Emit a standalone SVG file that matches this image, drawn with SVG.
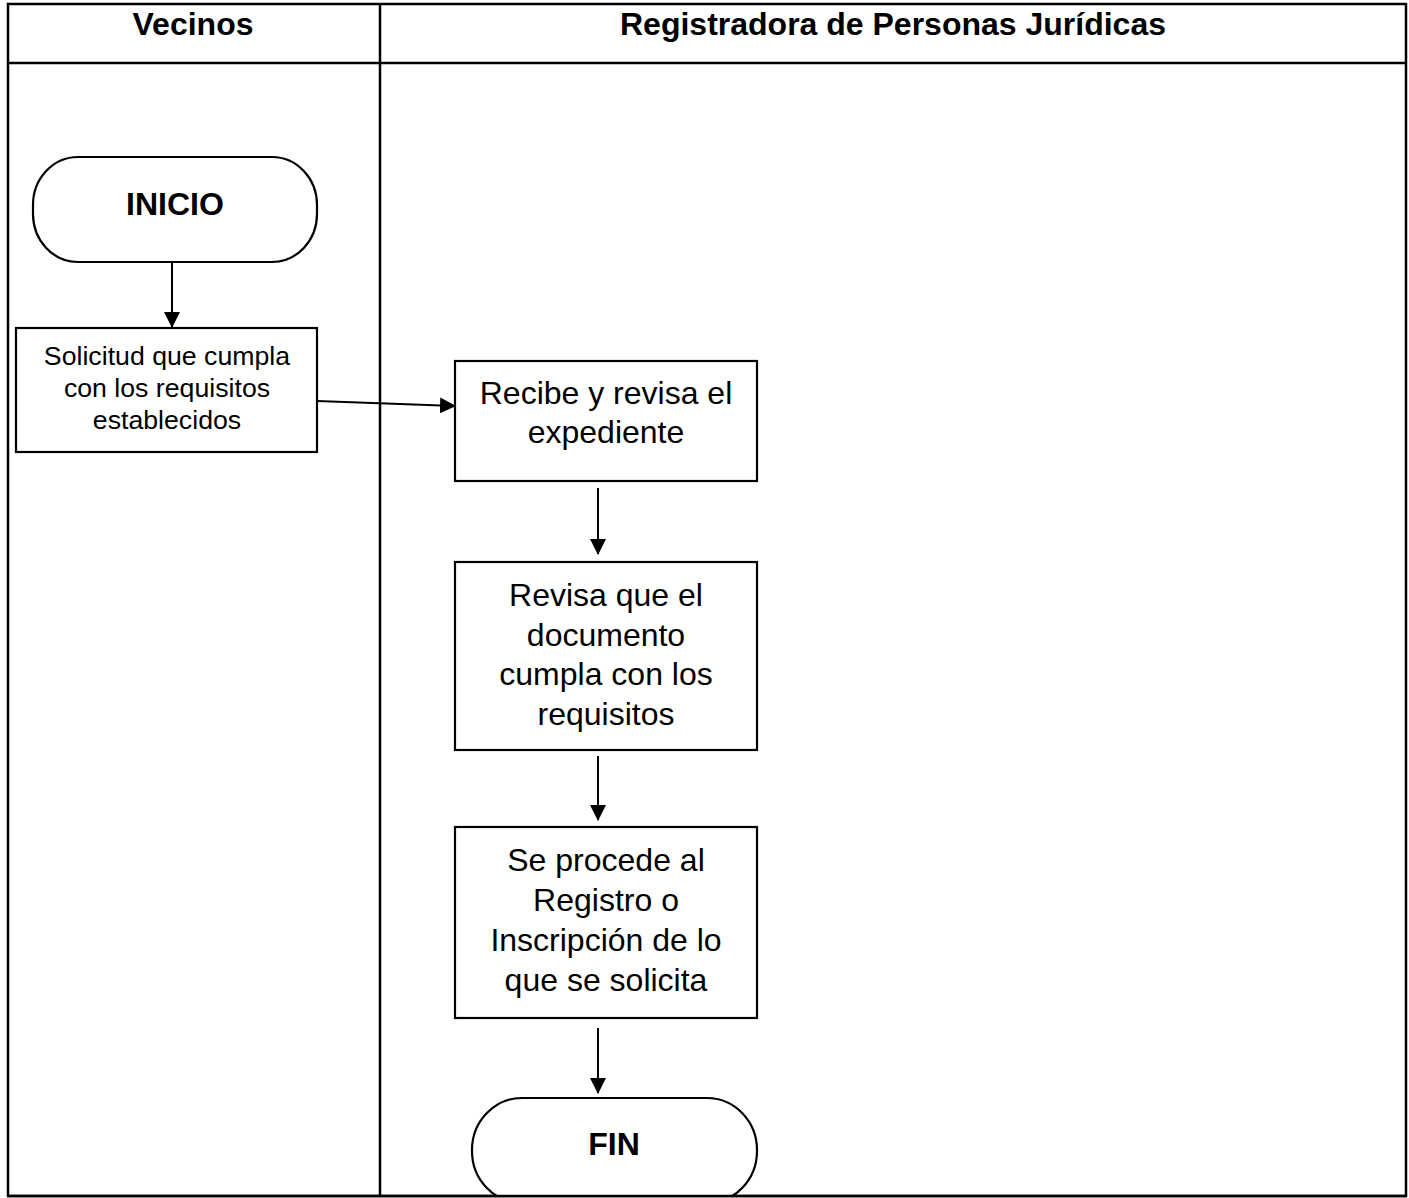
<svg xmlns="http://www.w3.org/2000/svg" width="1409" height="1198" viewBox="0 0 1409 1198">
  <style>
    .grid { fill: none; stroke: #000; stroke-width: 2.5; }
    .shape { fill: #fff; stroke: #000; stroke-width: 2.2; }
    .hdr { font-family: "Liberation Sans", Arial, sans-serif; font-weight: bold; font-size: 32px; text-anchor: middle; }
    .term { font-family: "Liberation Sans", Arial, sans-serif; font-weight: bold; font-size: 32px; text-anchor: middle; }
    .lbl { font-family: "Liberation Sans", Arial, sans-serif; font-size: 32px; text-anchor: middle; }
    .lbl-sm { font-family: "Liberation Sans", Arial, sans-serif; font-size: 26.7px; text-anchor: middle; }
    .conn { fill: none; stroke: #000; stroke-width: 2; }
  </style>
  <defs>
    <marker id="arrowV" markerWidth="16" markerHeight="16" refX="15" refY="8" orient="auto" markerUnits="userSpaceOnUse" viewBox="0 0 16 16">
      <path d="M0,0 L16,8 L0,16 z" fill="#000"/>
    </marker>
    <clipPath id="tableClip">
      <rect x="8" y="4" width="1398" height="1192"/>
    </clipPath>
  </defs>

  <rect width="1409" height="1198" fill="#fff"/>

  <!-- swimlane table -->
  <g id="lanes">
    <rect class="grid" x="8" y="4" width="1398" height="1192"/>
    <line class="grid" x1="8" y1="63" x2="1406" y2="63"/>
    <line class="grid" x1="380" y1="4" x2="380" y2="1196"/>
    <text class="hdr" x="193" y="35">Vecinos</text>
    <text class="hdr" x="893" y="35">Registradora de Personas Jurídicas</text>
  </g>

  <g id="connectors">
    <line class="conn" x1="172" y1="262" x2="172" y2="327" marker-end="url(#arrowV)"/>
    <line class="conn" x1="317" y1="401" x2="455" y2="406" marker-end="url(#arrowV)"/>
    <line class="conn" x1="598" y1="488" x2="598" y2="554" marker-end="url(#arrowV)"/>
    <line class="conn" x1="598" y1="756" x2="598" y2="820" marker-end="url(#arrowV)"/>
    <line class="conn" x1="598" y1="1028" x2="598" y2="1093" marker-end="url(#arrowV)"/>
  </g>

  <g id="inicio">
    <rect class="shape" x="33" y="157" width="284" height="105" rx="45" ry="48"/>
    <text class="term" x="175" y="215">INICIO</text>
  </g>

  <g id="solicitud">
    <rect class="shape" x="16" y="328" width="301" height="124"/>
    <text class="lbl-sm" x="167" y="365">Solicitud que cumpla</text>
    <text class="lbl-sm" x="167" y="397">con los requisitos</text>
    <text class="lbl-sm" x="167" y="429">establecidos</text>
  </g>

  <g id="recibe">
    <rect class="shape" x="455" y="361" width="302" height="120"/>
    <text class="lbl" x="606" y="404">Recibe y revisa el</text>
    <text class="lbl" x="606" y="443">expediente</text>
  </g>

  <g id="revisa">
    <rect class="shape" x="455" y="562" width="302" height="188"/>
    <text class="lbl" x="606" y="606">Revisa que el</text>
    <text class="lbl" x="606" y="646">documento</text>
    <text class="lbl" x="606" y="685">cumpla con los</text>
    <text class="lbl" x="606" y="725">requisitos</text>
  </g>

  <g id="registro">
    <rect class="shape" x="455" y="827" width="302" height="191"/>
    <text class="lbl" x="606" y="871">Se procede al</text>
    <text class="lbl" x="606" y="911">Registro o</text>
    <text class="lbl" x="606" y="951">Inscripción de lo</text>
    <text class="lbl" x="606" y="991">que se solicita</text>
  </g>

  <g id="fin" clip-path="url(#tableClip)">
    <rect class="shape" x="472" y="1098" width="285" height="105" rx="50" ry="52"/>
    <text class="term" x="614" y="1155">FIN</text>
  </g>

  <!-- bottom edge redrawn over the clipped end terminal -->
  <line class="grid" x1="8" y1="1196" x2="1406" y2="1196"/>
</svg>
